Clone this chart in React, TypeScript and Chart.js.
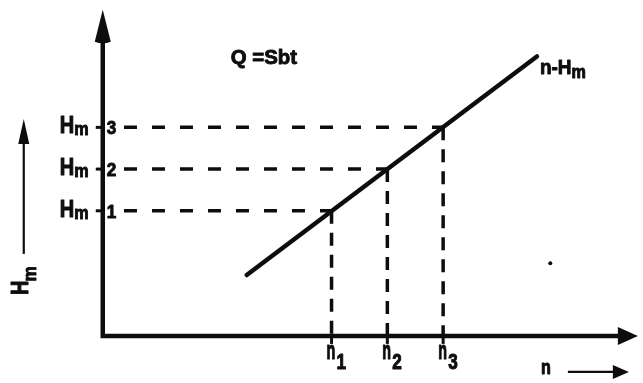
import { useEffect, useRef } from "react";
import { Chart, registerables } from "chart.js";

Chart.register(...registerables);

// Operating points: speed n_i and the head H_m,i read at each one
const levelNames = ["1", "2", "3"];
const nValues = [4.1, 5.1, 6.1];
const hmValues = [3, 4, 5];

// The n–Hm characteristic, drawn as a straight segment
const curveX = [2.58, 7.78];
const curveY = [1.46, 6.7];

// A stray speck of ink on the sheet
const speckX = [8.02];
const speckY = [1.74];

// Where the arrowed axes end
const yAxisTop = 7.82;
const xAxisEnd = 9.59;

// Leaders start just past the level digit written beside the axis
const leaderStart = 0.38;

const INK = "#0d0d0d";
const FONT = '"Liberation Sans", Arial, sans-serif';

// Lettering-stencil look: tall, heavy bold glyphs
function letter(
  ctx: CanvasRenderingContext2D,
  text: string,
  x: number,
  y: number,
  size: number,
  sx = 1,
  sy = 1
): number {
  ctx.save();
  ctx.translate(x, y);
  ctx.scale(sx, sy);
  ctx.font = `bold ${size}px ${FONT}`;
  ctx.lineWidth = 0.9;
  ctx.lineJoin = "round";
  ctx.fillText(text, 0, 0);
  ctx.strokeText(text, 0, 0);
  const w = ctx.measureText(text).width * sx;
  ctx.restore();
  return w;
}

const diagram = {
  id: "diagram",
  afterDatasetsDraw(chart: any) {
    const { ctx } = chart;
    const xs = chart.scales.x;
    const ys = chart.scales.y;
    const ox = xs.getPixelForValue(0);
    const oy = ys.getPixelForValue(0);
    const yTop = ys.getPixelForValue(yAxisTop);
    const xEnd = xs.getPixelForValue(xAxisEnd);

    ctx.save();
    ctx.fillStyle = INK;
    ctx.strokeStyle = INK;
    ctx.textAlign = "left";
    ctx.textBaseline = "alphabetic";

    // axes
    ctx.lineWidth = 4.5;
    ctx.lineJoin = "miter";
    ctx.lineCap = "butt";
    ctx.beginPath();
    ctx.moveTo(ox, yTop + 20);
    ctx.lineTo(ox, oy);
    ctx.lineTo(xEnd - 12, oy);
    ctx.stroke();

    // arrowheads
    ctx.beginPath();
    ctx.moveTo(ox, yTop);
    ctx.lineTo(ox + 8, yTop + 32);
    ctx.quadraticCurveTo(ox, yTop + 35, ox - 8, yTop + 32);
    ctx.closePath();
    ctx.fill();
    ctx.beginPath();
    ctx.moveTo(xEnd, oy);
    ctx.lineTo(xEnd - 20, oy - 9);
    ctx.lineTo(xEnd - 20, oy + 9);
    ctx.closePath();
    ctx.fill();

    // ticks on the axes
    ctx.lineWidth = 3;
    hmValues.forEach((h) => {
      const py = ys.getPixelForValue(h);
      ctx.beginPath();
      ctx.moveTo(ox - 7, py);
      ctx.lineTo(ox + 2, py);
      ctx.stroke();
    });
    nValues.forEach((n) => {
      const px = xs.getPixelForValue(n);
      ctx.beginPath();
      ctx.moveTo(px, oy);
      ctx.lineTo(px, oy + 8);
      ctx.stroke();
    });

    // H_m level labels
    hmValues.forEach((h, i) => {
      const py = ys.getPixelForValue(h);
      const w = letter(ctx, "H", ox - 43, py + 6, 20, 1, 1.2);
      letter(ctx, "m", ox - 43 + w, py + 8, 17, 0.95, 1.1);
      letter(ctx, levelNames[i], ox + 4, py + 7, 18, 0.95, 1.05);
    });

    // n_i labels under the axis
    nValues.forEach((n, i) => {
      const px = xs.getPixelForValue(n);
      letter(ctx, "n", px - 5, oy + 23, 19, 0.75, 1.35);
      letter(ctx, levelNames[i], px + 5, oy + 33, 19, 0.9, 1.15);
    });

    // curve label
    const ex = xs.getPixelForValue(curveX[1]);
    const ey = ys.getPixelForValue(curveY[1]);
    const lw = letter(ctx, "n-H", ex + 3, ey + 18, 20, 0.95, 1.05);
    letter(ctx, "m", ex + 3 + lw, ey + 22, 17, 0.95, 1.05);

    // formula
    letter(ctx, "Q =Sbt", ox + 128, yTop + 54, 20, 1.02, 1.05);

    // horizontal axis name with arrow
    letter(ctx, "n", xEnd - 97, oy + 38, 19, 0.85, 1.1);
    ctx.lineWidth = 2.2;
    ctx.beginPath();
    ctx.moveTo(xEnd - 70, oy + 36);
    ctx.lineTo(xEnd - 20, oy + 36);
    ctx.stroke();
    ctx.beginPath();
    ctx.moveTo(xEnd - 9, oy + 36);
    ctx.lineTo(xEnd - 25, oy + 29);
    ctx.lineTo(xEnd - 25, oy + 43);
    ctx.closePath();
    ctx.fill();

    // vertical axis name with arrow, written upwards
    const lx = ox - 79;
    ctx.lineWidth = 2.2;
    ctx.beginPath();
    ctx.moveTo(lx, oy - 82);
    ctx.lineTo(lx, oy - 205);
    ctx.stroke();
    ctx.beginPath();
    ctx.moveTo(lx, oy - 217);
    ctx.lineTo(lx + 5.5, oy - 192);
    ctx.lineTo(lx - 5.5, oy - 192);
    ctx.closePath();
    ctx.fill();

    ctx.save();
    ctx.translate(lx + 4, oy - 41);
    ctx.rotate(-Math.PI / 2);
    const hw = letter(ctx, "H", 0, 0, 20, 1, 1.15);
    letter(ctx, "m", hw - 1, 8, 18, 0.95, 1.05);
    ctx.restore();

    ctx.restore();
  },
};

export default function App() {
  const canvasRef = useRef<HTMLCanvasElement | null>(null);

  useEffect(() => {
    const canvas = canvasRef.current;
    if (!canvas) return;

    const horizontals = hmValues.map((h, i) => ({
      type: "line" as const,
      data: [
        { x: leaderStart, y: h },
        { x: nValues[i], y: h },
      ],
      borderColor: INK,
      borderWidth: 3.5,
      borderDash: [13, 15],
      pointRadius: 0,
      fill: false,
      clip: false as any,
    }));

    const verticals = nValues.map((n, i) => ({
      type: "line" as const,
      data: [
        { x: n, y: hmValues[i] },
        { x: n, y: 0 },
      ],
      borderColor: INK,
      borderWidth: 3.5,
      borderDash: [13, 9],
      pointRadius: 0,
      fill: false,
      clip: false as any,
    }));

    const chart = new Chart(canvas, {
      type: "line",
      data: {
        datasets: [
          {
            data: curveX.map((x, i) => ({ x, y: curveY[i] })),
            borderColor: INK,
            borderWidth: 4.5,
            borderCapStyle: "round",
            pointRadius: 0,
            fill: false,
            clip: false as any,
          },
          ...horizontals,
          ...verticals,
          {
            type: "scatter" as const,
            data: speckX.map((x, i) => ({ x, y: speckY[i] })),
            backgroundColor: INK,
            borderWidth: 0,
            pointRadius: 2,
          },
        ] as any,
      },
      options: {
        animation: false,
        responsive: false,
        events: [],
        layout: { padding: 0 },
        plugins: {
          legend: { display: false },
          tooltip: { enabled: false },
        },
        scales: {
          x: { type: "linear", display: false, min: -1.77, max: 9.61 },
          y: { type: "linear", display: false, min: -1.033, max: 7.958 },
        },
      },
      plugins: [diagram],
    });

    return () => chart.destroy();
  }, []);

  return (
    <div
      style={{
        position: "fixed",
        left: 0,
        top: 0,
        width: 643,
        height: 383,
        background: "#fff",
      }}
    >
      <canvas ref={canvasRef} width={643} height={383} style={{ display: "block" }} />
    </div>
  );
}
